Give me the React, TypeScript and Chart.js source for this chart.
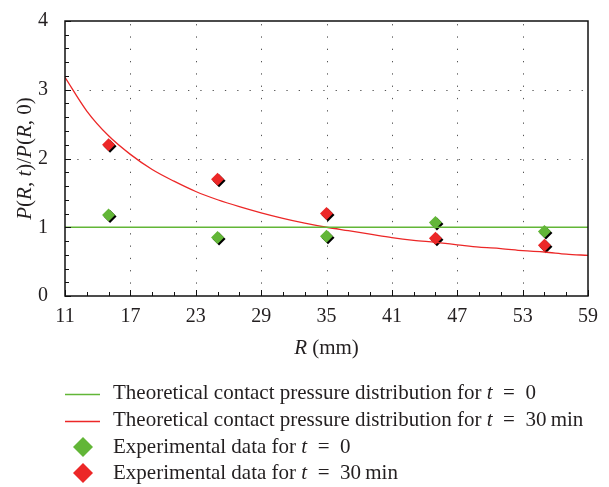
import React, { useEffect, useRef } from "react";
import { Chart, registerables } from "chart.js";

Chart.register(...registerables);

// ---- data ----
const expR = [15, 25, 35, 45, 55];
const expT0 = [1.18, 0.85, 0.87, 1.07, 0.94];
const expT30 = [2.2, 1.7, 1.2, 0.84, 0.74];

const theoryR = [11, 13, 15, 17, 19, 21, 23, 25, 27, 29, 31, 33, 35, 37, 39, 41, 43, 45, 47, 49, 51, 53, 55, 57, 59];
const theoryT30 = [3.18, 2.69, 2.33, 2.06, 1.84, 1.67, 1.52, 1.4, 1.3, 1.21, 1.13, 1.06, 1.0, 0.95, 0.9, 0.85, 0.81, 0.78, 0.745, 0.71, 0.69, 0.66, 0.64, 0.61, 0.59];
const theoryT0R = [11, 59];
const theoryT0 = [1, 1];

const legendLabels: [string, string][] = [
  ["Theoretical contact pressure distribution for ", "\u2002=\u20020"],
  ["Theoretical contact pressure distribution for ", "\u2002=\u200230\u2009min"],
  ["Experimental data for ", "\u2002=\u20020"],
  ["Experimental data for ", "\u2002=\u200230\u2009min"],
];

const GREEN = "#62b637";
const RED = "#ec2727";
const TEXT = "#231f20";
const FAMILY = '"Liberation Serif", "Times New Roman", serif';
const TICK_FS = 20;
const TITLE_FS = 21;
const LEGEND_FS = 21;

type Run = [string, boolean];

function drawRuns(ctx: CanvasRenderingContext2D, runs: Run[], x: number, y: number, align: "left" | "center", fs: number) {
  let total = 0;
  const widths = runs.map(([s, it]) => {
    ctx.font = `${it ? "italic " : ""}${fs}px ${FAMILY}`;
    const w = ctx.measureText(s).width;
    total += w;
    return w;
  });
  let cx = align === "center" ? x - total / 2 : x;
  runs.forEach(([s, it], i) => {
    ctx.font = `${it ? "italic " : ""}${fs}px ${FAMILY}`;
    ctx.fillText(s, cx, y);
    cx += widths[i];
  });
}

const shadowPlugin = {
  id: "diamondShadow",
  beforeDatasetDraw(chart: any, args: any) {
    const ds = chart.data.datasets[args.index];
    if (ds.isExperimental) {
      const ctx = chart.ctx;
      ctx.save();
      ctx.shadowColor = "#000";
      ctx.shadowOffsetX = 1.5;
      ctx.shadowOffsetY = 1.5;
      ctx.shadowBlur = 0;
    }
  },
  afterDatasetDraw(chart: any, args: any) {
    const ds = chart.data.datasets[args.index];
    if (ds.isExperimental) chart.ctx.restore();
  },
};

const gridPlugin = {
  id: "dottedGrid",
  beforeDatasetsDraw(chart: any) {
    const { ctx, chartArea: a, scales } = chart;
    const xs = scales.x;
    const ys = scales.y;
    ctx.save();
    ctx.strokeStyle = "#555";
    ctx.lineWidth = 1;
    ctx.setLineDash([1.3, 11]);
    xs.ticks.forEach((t: any) => {
      if (t.value <= xs.min || t.value >= xs.max) return;
      const px = Math.round(xs.getPixelForValue(t.value)) + 0.5;
      ctx.beginPath();
      ctx.moveTo(px, a.bottom);
      ctx.lineTo(px, a.top);
      ctx.stroke();
    });
    ys.ticks.forEach((t: any) => {
      if (t.value <= ys.min || t.value >= ys.max) return;
      const py = Math.round(ys.getPixelForValue(t.value)) + 0.5;
      ctx.beginPath();
      ctx.moveTo(a.left, py);
      ctx.lineTo(a.right, py);
      ctx.stroke();
    });
    ctx.restore();
  },
};

const framePlugin = {
  id: "frameAndText",
  afterDraw(chart: any) {
    const { ctx, chartArea: a, scales } = chart;
    const xs = scales.x;
    const ys = scales.y;
    ctx.save();
    // ticks (inward)
    ctx.strokeStyle = "#111";
    ctx.lineWidth = 1;
    for (let v = xs.min; v <= xs.max + 1e-9; v += 2) {
      const major = Math.abs((v - xs.min) % 6) < 1e-9;
      const px = Math.round(xs.getPixelForValue(v)) + 0.5;
      ctx.beginPath();
      ctx.moveTo(px, a.bottom);
      ctx.lineTo(px, a.bottom - (major ? 6 : 4));
      ctx.stroke();
    }
    for (let v = ys.min; v <= ys.max + 1e-9; v += 0.2) {
      const major = Math.abs(v - Math.round(v)) < 1e-6;
      const py = Math.round(ys.getPixelForValue(v)) + 0.5;
      ctx.beginPath();
      ctx.moveTo(a.left, py);
      ctx.lineTo(a.left + (major ? 6 : 4), py);
      ctx.stroke();
    }
    // frame
    ctx.lineWidth = 1.5;
    ctx.strokeStyle = "#111";
    ctx.strokeRect(a.left, a.top, a.right - a.left, a.bottom - a.top);

    // axis titles
    ctx.fillStyle = TEXT;
    ctx.textBaseline = "middle";
    drawRuns(ctx, [["R", true], [" (mm)", false]], (a.left + a.right) / 2, 348, "center", TITLE_FS);
    ctx.save();
    ctx.translate(25, (a.top + a.bottom) / 2);
    ctx.rotate(-Math.PI / 2);
    drawRuns(
      ctx,
      [
        ["P", true], ["(", false], ["R", true], [", ", false], ["t", true], [")/", false],
        ["P", true], ["(", false], ["R", true], [", 0)", false],
      ],
      0,
      0,
      "center",
      TITLE_FS
    );
    ctx.restore();

    // legend
    const rows = [393, 420, 447, 473];
    const ds = chart.data.datasets;
    rows.forEach((y, i) => {
      const d = ds[i];
      if (d.isExperimental) {
        ctx.fillStyle = d.backgroundColor;
        ctx.beginPath();
        ctx.moveTo(83, y - 10);
        ctx.lineTo(93, y);
        ctx.lineTo(83, y + 10);
        ctx.lineTo(73, y);
        ctx.closePath();
        ctx.fill();
      } else {
        ctx.strokeStyle = d.borderColor;
        ctx.lineWidth = 1.6;
        ctx.beginPath();
        ctx.moveTo(65, y + 1.5);
        ctx.lineTo(100, y + 1.5);
        ctx.stroke();
      }
      ctx.fillStyle = TEXT;
      const [a1, a2] = legendLabels[i];
      drawRuns(ctx, [[a1, false], ["t", true], [a2, false]], 113, y, "left", LEGEND_FS);
    });
    ctx.restore();
  },
};

export default function App() {
  const ref = useRef<HTMLCanvasElement | null>(null);
  useEffect(() => {
    if (!ref.current) return;
    const chart = new Chart(ref.current, {
      type: "scatter",
      data: {
        datasets: [
          {
            type: "line",
            label: "Theoretical t = 0",
            data: theoryT0R.map((x, i) => ({ x, y: theoryT0[i] })),
            borderColor: GREEN,
            borderWidth: 1.4,
            pointRadius: 0,
            fill: false,
          } as any,
          {
            type: "line",
            label: "Theoretical t = 30 min",
            data: theoryR.map((x, i) => ({ x, y: theoryT30[i] })),
            borderColor: RED,
            borderWidth: 1.3,
            pointRadius: 0,
            cubicInterpolationMode: "monotone",
            fill: false,
          } as any,
          {
            label: "Experimental t = 0",
            isExperimental: true,
            data: expR.map((x, i) => ({ x, y: expT0[i] })),
            backgroundColor: GREEN,
            borderWidth: 0,
            pointStyle: "rectRot",
            pointRadius: 6.5,
          } as any,
          {
            label: "Experimental t = 30 min",
            isExperimental: true,
            data: expR.map((x, i) => ({ x, y: expT30[i] })),
            backgroundColor: RED,
            borderWidth: 0,
            pointStyle: "rectRot",
            pointRadius: 6.5,
          } as any,
        ],
      },
      options: {
        animation: false,
        responsive: true,
        maintainAspectRatio: false,
        layout: { padding: { top: 15, right: 21, left: 0, bottom: 0 } },
        plugins: { legend: { display: false }, tooltip: { enabled: false } },
        scales: {
          x: {
            type: "linear",
            min: 11,
            max: 59,
            ticks: { stepSize: 6, color: TEXT, font: { family: FAMILY, size: TICK_FS }, padding: 1, maxRotation: 0 },
            grid: { display: false },
            border: { display: false },
            afterFit: (s: any) => {
              s.height = 191;
            },
          },
          y: {
            min: 0,
            max: 4,
            ticks: { stepSize: 1, color: TEXT, font: { family: FAMILY, size: TICK_FS }, padding: 9 },
            grid: { display: false },
            border: { display: false },
            afterFit: (s: any) => {
              s.width = 65;
            },
          },
        },
      },
      plugins: [gridPlugin, shadowPlugin, framePlugin],
    });
    return () => chart.destroy();
  }, []);
  return (
    <div style={{ position: "fixed", left: 0, top: 0, width: 609, height: 487, background: "#fff" }}>
      <canvas ref={ref} />
    </div>
  );
}
